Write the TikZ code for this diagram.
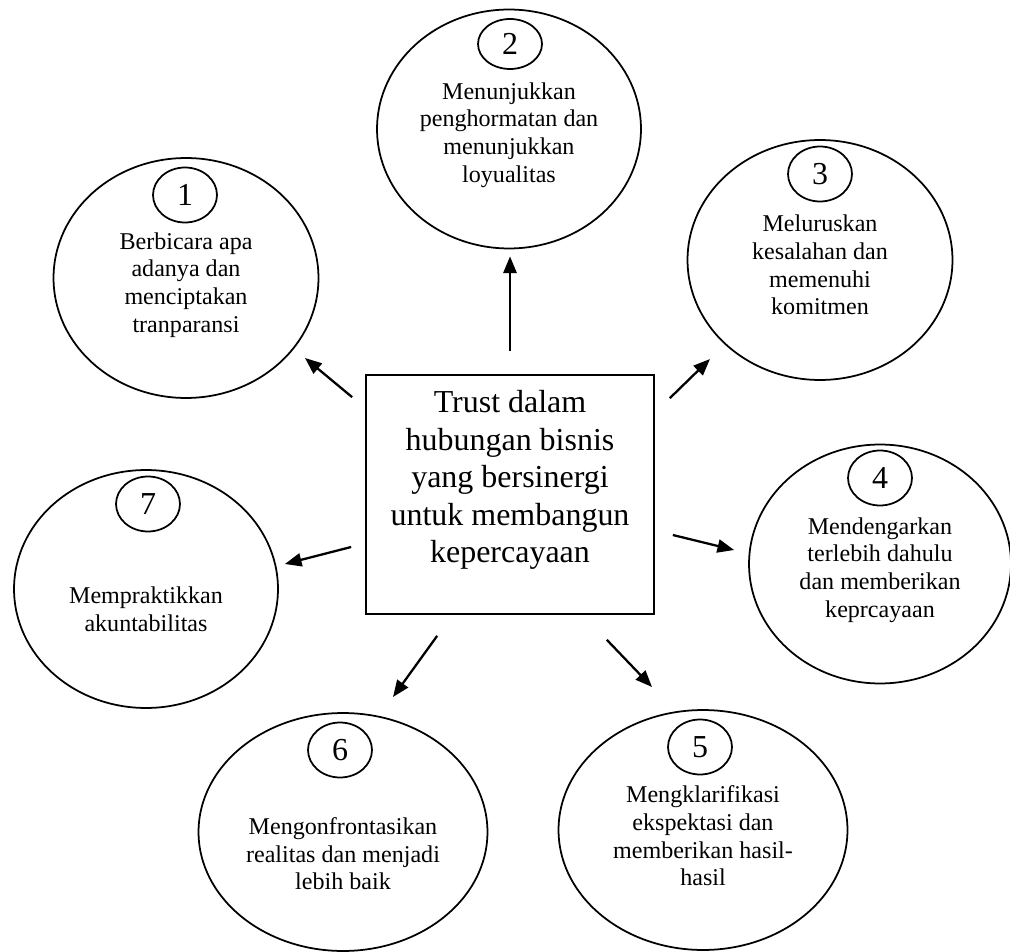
\documentclass[tikz,border=0pt]{standalone}
\usepackage{fontspec}
\setmainfont{Liberation Serif}
\usetikzlibrary{shapes.geometric, arrows.meta, calc}

\begin{document}
\begin{tikzpicture}[
    x=0.02cm, y=-0.02cm,
    >={Triangle[length=9.5pt, width=7.5pt]},
    bubble/.style={
        ellipse, 
        draw=black, 
        line width=1pt, 
        inner sep=0pt, 
        minimum width=5.3cm, 
        minimum height=4.8cm
    },
    badge/.style={
        ellipse, 
        draw=black, 
        line width=1pt, 
        inner sep=0pt, 
        minimum width=1.28cm, 
        minimum height=1.1cm, 
        font=\fontsize{18.2}{21}\selectfont
    },
    desc/.style={
        align=center, 
        inner sep=0pt, 
        font=\fontsize{13.7}{15.7}\selectfont
    },
    hub/.style={
        rectangle, 
        draw=black, 
        line width=1pt, 
        minimum width=5.76cm, 
        minimum height=4.78cm
    },
    hubtext/.style={
        align=center, 
        inner sep=0pt, 
        font=\fontsize{18.2}{21.3}\selectfont
    },
    link/.style={->, line width=1.3pt}
]
    \useasboundingbox (0,0) rectangle (1010,952);

    % =========================================================
    % CENTRAL BOX
    % =========================================================
    \node [hub] (hub) at (510,494.5) {};
    \node [hubtext] (hubtext) at (510,480) {Trust dalam\\ hubungan bisnis\\ yang bersinergi\\ untuk membangun\\ kepercayaan};

    % =========================================================
    % SEVEN BEHAVIOURS AROUND THE BOX
    % =========================================================
    \node [bubble] (e1) at (186,278) {};
    \node [badge] (n1) at (185,195) {1};
    \node [desc] (d1) at (186,285) {Berbicara apa\\ adanya dan\\ menciptakan\\ tranparansi};

    \node [bubble, minimum width=5.28cm, minimum height=4.78cm] (e2) at (509,129) {};
    \node [badge, minimum height=1.0cm] (n2) at (510,44) {2};
    \node [desc] (d2) at (509,135) {Menunjukkan\\ penghormatan dan\\ menunjukkan\\ loyualitas};

    \node [bubble] (e3) at (820,260) {};
    \node [badge] (n3) at (820,174) {3};
    \node [desc] (d3) at (820,265) {Meluruskan\\ kesalahan dan\\ memenuhi\\ komitmen};

    \node [bubble, minimum width=5.24cm, minimum height=4.78cm] (e4) at (880,564) {};
    \node [badge] (n4) at (880,478) {4};
    \node [desc] (d4) at (880,570) {Mendengarkan\\ terlebih dahulu\\ dan memberikan\\ keprcayaan};

    \node [bubble, minimum width=5.78cm] (e5) at (703,830) {};
    \node [badge] (n5) at (700,747) {5};
    \node [desc] (d5) at (703,836) {Mengklarifikasi\\ ekspektasi dan\\ memberikan hasil-\\ hasil};

    \node [bubble, minimum width=5.78cm, minimum height=4.76cm] (e6) at (343,832) {};
    \node [badge] (n6) at (340,750) {6};
    \node [desc] (d6) at (343,854) {Mengonfrontasikan\\ realitas dan menjadi\\ lebih baik};

    \node [bubble, minimum width=5.28cm, minimum height=4.76cm] (e7) at (146,589) {};
    \node [badge] (n7) at (148,504) {7};
    \node [desc] (d7) at (146,609) {Mempraktikkan\\ akuntabilitas};

    % =========================================================
    % ARROWS FROM THE BOX
    % =========================================================
    \draw [link] ([shift={(-13,23)}]hub.north west) -- ([shift={(119,80)}]e1.center);
    \draw [link] ([shift={(0,-23)}]hub.north) -- ([shift={(1,7)}]e2.south);
    \draw [link] ([shift={(15,24)}]hub.north east) -- ([shift={(-110,99)}]e3.center);
    \draw [link] ([shift={(18,40.5)}]hub.east) -- ([shift={(-14,-14)}]e4.west);
    \draw [link] ([shift={(-48,25)}]hub.south east) -- ([shift={(-51,-143)}]e5.center);
    \draw [link] ([shift={(72,21)}]hub.south west) -- ([shift={(50,-135)}]e6.center);
    \draw [link] ([shift={(-14,52.5)}]hub.west) -- ([shift={(6,-25)}]e7.east);

\end{tikzpicture}
\end{document}
